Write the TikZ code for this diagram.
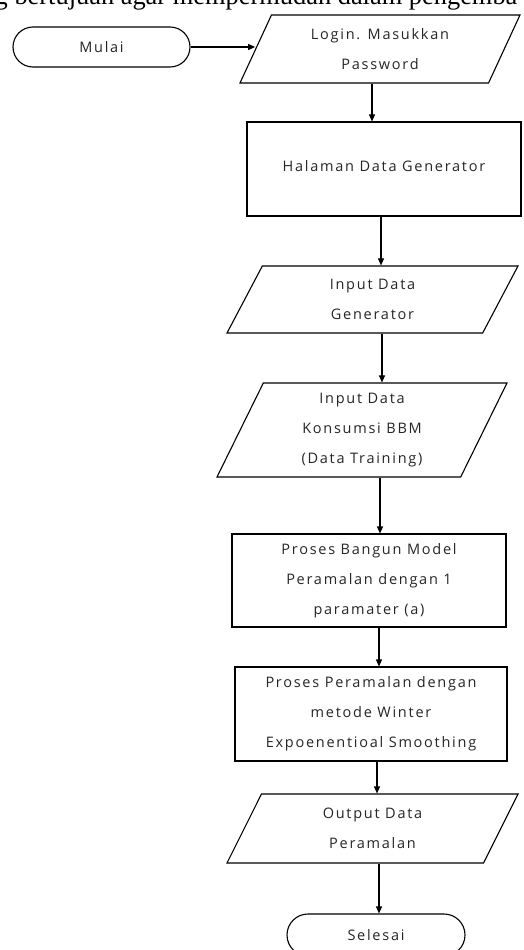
\documentclass[tikz,border=0pt]{standalone}
\usepackage{fontspec}
\setmainfont{Liberation Serif}
\newfontfamily\flowfont[LetterSpace=12]{Open Sans}
\usetikzlibrary{shapes.geometric,shapes.misc,arrows.meta}
\begin{document}
\begin{tikzpicture}[x=1pt,y=-1pt,
  flowtext/.style={font=\flowfont\fontsize{14.5}{30}\selectfont, align=center, text=black!85},
  term/.style={flowtext, rounded rectangle, draw, line width=1.1pt, inner sep=0pt},
  proc/.style={flowtext, rectangle, draw, line width=1.1pt, inner sep=0pt},
  io/.style={flowtext, trapezium, trapezium stretches body=true, draw, line width=1.1pt, inner sep=0pt},
  arr/.style={line width=1.1pt, -{Triangle[length=7pt,width=6pt]}}]
\useasboundingbox (0,0) rectangle (524,950);
\clip (0,0) rectangle (524,950);
\fill[white] (0,0) rectangle (524,950);
% clipped running text at the top
\node[anchor=base west, inner sep=0pt, font=\fontsize{26.4}{30}\selectfont] (toptext) at (-5.5,4.5) {g bertujuan agar mempermudah dalam pengemba};
% nodes
\node[term, minimum width=177pt, minimum height=40pt] (mulai) at (101.5,47) {Mulai};
\node[io, trapezium left angle=52.6, trapezium right angle=127.4, minimum width=280pt, minimum height=68pt] (login) at (380,49) {Login. Masukkan\\Password};
\node[proc, minimum width=274pt, minimum height=94pt] (halaman) at (384,169) {\raisebox{7pt}{Halaman Data Generator}};
\node[io, trapezium left angle=48.9, trapezium right angle=131.1, minimum width=291pt, minimum height=67pt] (gen) at (372.5,299.5) {Input Data\\Generator};
\node[io, trapezium left angle=57.9, trapezium right angle=122.1, minimum width=290pt, minimum height=94pt] (kons) at (362,430) {Input Data\\Konsumsi BBM\\(Data Training)};
\node[proc, minimum width=274pt, minimum height=93pt] (bangun) at (369,580.5) {Proses Bangun Model\\Peramalan dengan 1\\paramater (a)};
\node[proc, minimum width=272pt, minimum height=94pt] (ramal) at (371,714) {Proses Peramalan dengan\\metode Winter\\Expoenentioal Smoothing};
\node[io, trapezium left angle=49.7, trapezium right angle=130.3, minimum width=291pt, minimum height=69pt] (output) at (372.5,828.5) {Output Data\\Peramalan};
\node[term, minimum width=178pt, minimum height=42pt] (selesai) at (376,935) {Selesai};
% x positions of the vertical connectors
\coordinate (c2) at (372,0);
\coordinate (c3) at (381,0);
\coordinate (c4) at (382,0);
\coordinate (c5) at (380,0);
\coordinate (c6) at (379,0);
\coordinate (c7) at (377,0);
\coordinate (c8) at (379,0);
% connectors
\draw[arr] (mulai.east) -- (mulai.east -| login.left side);
\draw[arr] (login.south -| c2) -- (halaman.north -| c2);
\draw[arr] (halaman.south -| c3) -- (gen.north -| c3);
\draw[arr] (gen.south -| c4) -- (kons.north -| c4);
\draw[arr] (kons.south -| c5) -- (bangun.north -| c5);
\draw[arr] (bangun.south -| c6) -- (ramal.north -| c6);
\draw[arr] (ramal.south -| c7) -- (output.north -| c7);
\draw[arr] (output.south -| c8) -- (selesai.north -| c8);
\end{tikzpicture}
\end{document}
